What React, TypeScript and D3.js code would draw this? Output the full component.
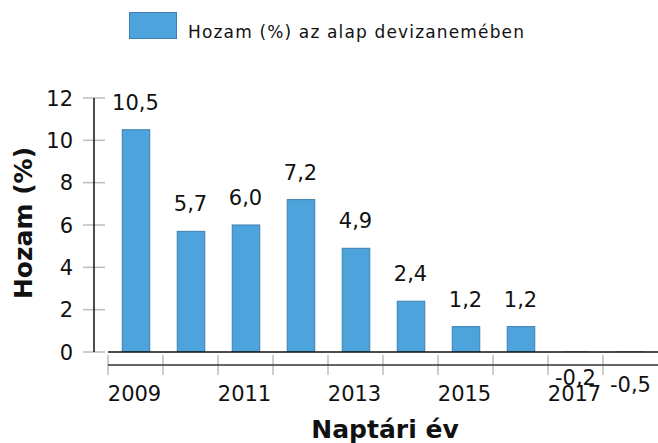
import React from "react";
import * as d3 from "d3";

const years = ["2009", "2010", "2011", "2012", "2013", "2014", "2015", "2016", "2017", "2018"];
const returns = [10.5, 5.7, 6.0, 7.2, 4.9, 2.4, 1.2, 1.2, -0.2, -0.5];
const yTicks = [0, 2, 4, 6, 8, 10, 12];
const yearLabels = ["2009", "2011", "2013", "2015", "2017"];
const legendLabel = "Hozam (%) az alap devizanemében";
const yTitle = "Hozam (%)";
const xTitle = "Naptári év";

const W = 658;
const H = 443;
const FONT = "DejaVu Sans, Verdana, sans-serif";
const BAR = "#4da3dc";
const BAR_STROKE = "#3c7fb0";

export default function App() {
  const x = d3.scaleBand<string>().domain(years).range([108, 658]).paddingInner(0.5).paddingOuter(0.25);
  const y = d3.scaleLinear().domain([0, 12]).range([352, 98]);
  const step = x.step();
  const left = 108;
  const fmt = (v: number) => d3.format(".1f")(v).replace(".", ",").replace("−", "-");

  return (
    <svg width={W} height={H} style={{ position: "absolute", left: 0, top: 0, background: "#fff" }} fontFamily={FONT}>
      <defs>
        <clipPath id="plot">
          <rect x={0} y={0} width={W} height={y(0)} />
        </clipPath>
      </defs>
      {/* legend */}
      <rect x={129.5} y={12.5} width={47} height={26} fill={BAR} stroke={BAR_STROKE} strokeWidth={1} />
      <text x={188} y={38} fontSize={17} fill="#111" textLength={336} lengthAdjust="spacing">
        {legendLabel}
      </text>

      {/* y axis */}
      {yTicks.map((t) => (
        <g key={t}>
          <line x1={83} x2={105} y1={y(t)} y2={y(t)} stroke="#bdbdbd" strokeWidth={1.5} />
          <text x={73} y={y(t) + 7.5} fontSize={21} textAnchor="end" fill="#111">
            {t}
          </text>
        </g>
      ))}
      <line x1={94} x2={94} y1={y(12)} y2={y(0)} stroke="#111" strokeWidth={1.5} />

      {/* bars */}
      <g clipPath="url(#plot)">
        {returns.map((v, i) => (
          <rect
            key={years[i]}
            x={(x(years[i]) as number) + 0.5}
            y={y(Math.max(0, v))}
            width={x.bandwidth()}
            height={Math.abs(y(v) - y(0))}
            fill={BAR}
            stroke={BAR_STROKE}
            strokeWidth={1}
          />
        ))}
      </g>

      {/* x axis */}
      {years.map((yr, i) => (
        <line key={yr} x1={left + i * step} x2={left + i * step} y1={355} y2={375} stroke="#bdbdbd" strokeWidth={1.5} />
      ))}
      <line x1={108} x2={W} y1={y(0)} y2={y(0)} stroke="#111" strokeWidth={1.5} />
      <line x1={108} x2={W} y1={365} y2={365} stroke="#333" strokeWidth={1.5} />

      {yearLabels.map((yr) => (
        <text key={yr} x={(x(yr) as number) + x.bandwidth() / 2 - 1} y={401} fontSize={21} textAnchor="middle" fill="#111">
          {yr}
        </text>
      ))}

      {/* value labels */}
      {returns.map((v, i) => (
        <text
          key={"l" + years[i]}
          x={(x(years[i]) as number) + x.bandwidth() / 2}
          y={v >= 0 ? y(v) - 20 : y(v) + 29}
          fontSize={21}
          textAnchor="middle"
          fill="#111"
        >
          {fmt(v)}
        </text>
      ))}

      {/* titles */}
      <text x={385} y={438} fontSize={25} fontWeight="bold" textAnchor="middle" fill="#111">
        {xTitle}
      </text>
      <text
        transform={`translate(32,223) rotate(-90)`}
        fontSize={25}
        fontWeight="bold"
        textAnchor="middle"
        fill="#111"
      >
        {yTitle}
      </text>
    </svg>
  );
}
